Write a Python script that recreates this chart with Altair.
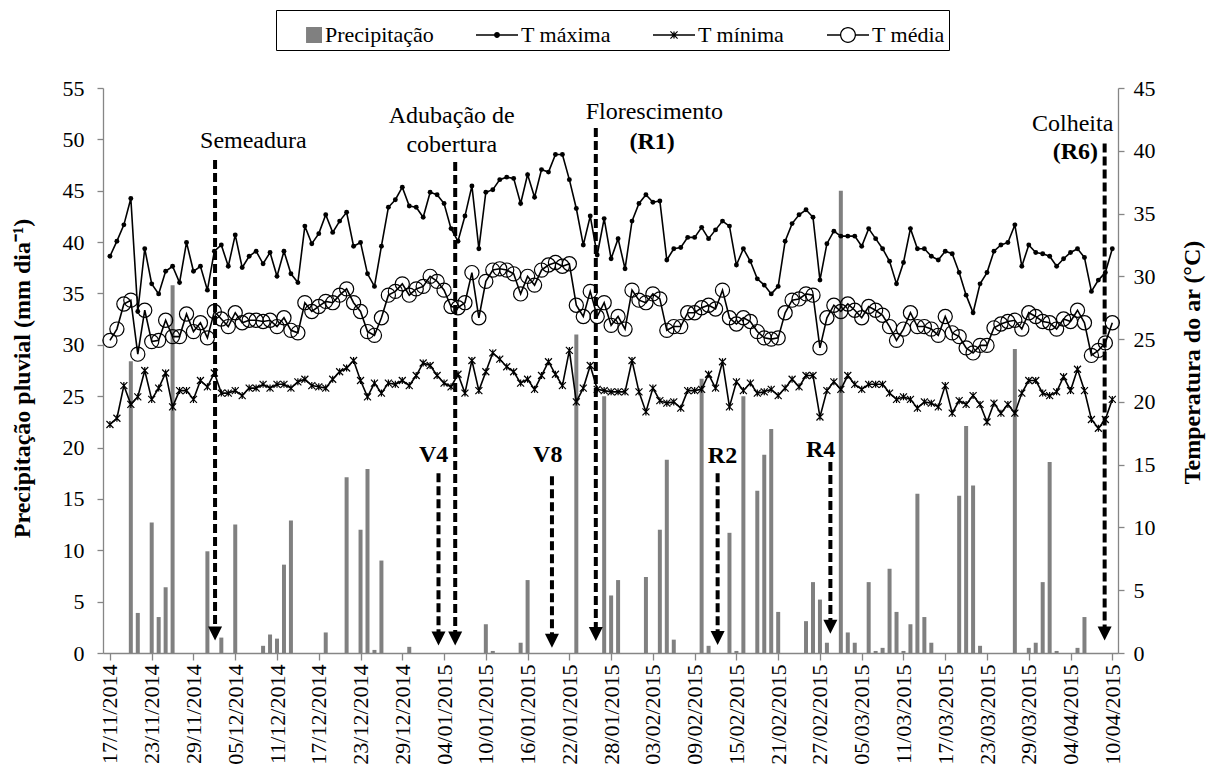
import altair as alt
import pandas as pd

# ---------------- data ----------------
tick_labels = ["17/11/2014", "23/11/2014", "29/11/2014", "05/12/2014", "11/12/2014",
               "17/12/2014", "23/12/2014", "29/12/2014", "04/01/2015", "10/01/2015",
               "16/01/2015", "22/01/2015", "28/01/2015", "03/02/2015", "09/02/2015",
               "15/02/2015", "21/02/2015", "27/02/2015", "05/03/2015", "11/03/2015",
               "17/03/2015", "23/03/2015", "29/03/2015", "04/04/2015", "10/04/2015"]

precip = [0, 0, 0, 28.4, 3.9, 0, 12.7, 3.5, 6.4, 35.8,
          0, 0, 0, 0, 9.9, 0, 1.5, 0, 12.5, 0,
          0, 0, 0.7, 1.8, 1.4, 8.6, 12.9, 0, 0, 0,
          0, 2.0, 0, 0, 17.1, 0, 12.0, 17.9, 0.3, 9.0,
          0, 0, 0, 0.6, 0, 0, 0, 0, 0, 0,
          0, 0, 0, 0, 2.8, 0.2, 0, 0, 0, 1.0,
          7.1, 0, 0, 0, 0, 0, 0, 31.0, 0, 0,
          0, 25.0, 5.6, 7.1, 0, 0, 0, 7.4, 0, 12.0,
          18.8, 1.3, 0, 0, 0, 26.7, 0.7, 0, 0, 11.7,
          0.2, 25.0, 0, 15.8, 19.3, 21.8, 4.0, 0, 0, 0,
          3.1, 6.9, 5.2, 1.0, 0, 45.0, 2.0, 1.0, 0, 6.9,
          0.2, 0.5, 8.2, 4.0, 0.2, 2.8, 15.5, 3.5, 1.0, 0,
          0, 0, 15.3, 22.1, 16.3, 0.7, 0, 0, 0, 0,
          29.6, 0, 0.5, 1.0, 6.9, 18.6, 0.2, 0, 0, 0.5,
          3.5, 0, 0, 0, 0]

tmax = [31.6, 32.8, 34.1, 36.2, 27.2, 32.2, 29.4, 28.6, 30.4, 30.8,
        29.5, 32.7, 30.4, 30.8, 28.9, 32.0, 32.5, 30.8, 33.3, 30.7,
        31.6, 32.0, 31.0, 31.9, 30.0, 32.0, 30.2, 29.5, 34.0, 32.6,
        33.4, 34.9, 33.5, 34.4, 35.1, 32.4, 32.7, 30.2, 29.2, 32.4,
        35.5, 36.1, 37.1, 35.6, 35.5, 34.7, 36.7, 36.5, 35.8, 33.8,
        32.8, 34.8, 37.2, 32.2, 36.7, 36.9, 37.7, 37.9, 37.8, 35.8,
        38.1, 36.3, 38.5, 38.3, 39.7, 39.7, 37.7, 35.4, 32.5, 34.8,
        31.7, 34.6, 31.4, 33.0, 30.6, 34.4, 35.8, 36.5, 35.9, 36.0,
        31.3, 32.2, 32.3, 33.1, 33.1, 33.9, 33.0, 33.7, 34.4, 34.0,
        30.9, 32.2, 31.2, 29.8, 29.3, 28.6, 29.2, 32.8, 34.2, 34.9,
        35.3, 34.7, 29.7, 32.6, 33.6, 33.2, 33.2, 33.2, 32.4, 33.8,
        33.0, 32.2, 31.2, 29.4, 31.1, 33.8, 32.2, 32.2, 31.6, 31.3,
        32.0, 31.8, 30.3, 28.5, 27.1, 29.4, 30.3, 32.0, 32.5, 32.7,
        34.1, 30.8, 32.5, 31.9, 31.8, 31.6, 30.8, 31.4, 31.9, 32.2,
        31.5, 28.8, 29.7, 30.3, 32.2]

tmin = [18.2, 18.7, 21.3, 19.8, 20.4, 22.5, 20.2, 21.1, 22.3, 19.6,
        20.9, 20.9, 20.2, 21.7, 21.2, 22.3, 20.7, 20.7, 20.9, 20.5,
        21.1, 21.1, 21.4, 21.1, 21.4, 21.4, 21.1, 21.6, 21.8, 21.3,
        21.2, 21.1, 21.8, 22.4, 22.7, 23.3, 21.7, 20.4, 21.5, 20.7,
        21.5, 21.4, 21.7, 21.3, 22.1, 23.1, 22.9, 22.1, 21.5, 21.2,
        22.2, 20.7, 23.3, 20.9, 22.4, 23.9, 23.4, 22.8, 22.4, 21.5,
        21.8, 21.0, 22.1, 23.2, 22.2, 21.3, 24.1, 20.0, 21.1, 22.9,
        21.0, 20.9, 20.8, 20.8, 20.8, 23.3, 20.8, 19.2, 21.1, 20.1,
        19.9, 20.0, 19.5, 20.9, 20.9, 21.0, 22.2, 21.1, 23.2, 19.6,
        21.6, 20.9, 21.5, 20.7, 20.8, 21.0, 20.5, 21.1, 21.8, 21.2,
        22.1, 22.1, 18.8, 20.9, 21.6, 21.0, 22.1, 21.4, 21.0, 21.4,
        21.4, 21.4, 20.7, 20.2, 20.4, 20.2, 19.5, 20.0, 19.9, 19.6,
        21.3, 19.1, 20.1, 19.8, 20.5, 19.8, 18.4, 19.9, 19.1, 19.8,
        19.1, 20.7, 21.7, 21.7, 20.7, 20.5, 20.8, 22.0, 20.9, 22.6,
        20.9, 18.6, 17.9, 18.6, 20.2]

tmean = [24.9, 25.8, 27.8, 28.1, 23.8, 27.3, 24.8, 24.9, 26.5, 25.2,
         25.2, 27.0, 25.6, 26.3, 25.1, 27.2, 26.6, 26.0, 27.1, 26.3,
         26.5, 26.5, 26.4, 26.5, 26.0, 26.7, 25.7, 25.5, 27.9, 27.2,
         27.6, 28.0, 27.9, 28.5, 29.0, 27.9, 27.2, 25.6, 25.3, 26.7,
         28.5, 28.8, 29.4, 28.5, 29.0, 29.2, 30.0, 29.6, 28.9, 27.6,
         27.5, 27.9, 30.3, 26.7, 29.6, 30.5, 30.6, 30.5, 30.2, 28.6,
         30.0, 29.3, 30.5, 30.9, 31.1, 30.8, 31.0, 27.7, 26.8, 28.8,
         26.8, 27.9, 26.1, 26.8, 25.8, 28.9, 28.1, 27.9, 28.6, 28.2,
         25.7, 26.0, 26.0, 27.1, 27.1, 27.5, 27.7, 27.4, 28.9, 26.7,
         26.2, 26.7, 26.4, 25.6, 25.1, 25.0, 25.1, 27.1, 28.1, 28.2,
         28.6, 28.5, 24.3, 26.7, 27.7, 27.2, 27.8, 27.3, 26.7, 27.6,
         27.3, 26.9, 26.0, 24.9, 25.8, 27.1, 26.0, 26.0, 25.8, 25.3,
         26.8, 25.5, 25.2, 24.3, 23.9, 24.5, 24.5, 25.9, 26.2, 26.4,
         26.5, 25.8, 27.1, 26.8, 26.4, 26.3, 25.8, 26.6, 26.4, 27.3,
         26.3, 23.7, 24.1, 24.7, 26.3]

series_names = ["Precipitação", "T máxima", "T mínima", "T média"]
series_colors = ["#808080", "black", "black", "black"]

# phenological arrows (day index, top and arrow-head level in mm)
arrow_day = [15.1, 47.2, 49.6, 63.5, 69.8, 87.3, 103.5, 142.9]
arrow_top = [48.0, 17.5, 47.8, 17.2, 51.1, 17.5, 18.6, 49.6]
arrow_head = [1.9, 1.4, 1.4, 1.2, 1.85, 1.45, 2.55, 1.9]

ann_text = ["Semeadura", "Adubação de", "cobertura", "Florescimento", "(R1)",
            "V4", "V8", "R2", "R4", "Colheita", "(R6)"]
ann_day = [20.6, 49.1, 49.1, 78.2, 77.9, 46.5, 62.9, 88.0, 102.1, 138.3, 138.7]
ann_y = [49.8, 52.3, 49.5, 52.7, 49.7, 19.3, 19.3, 19.2, 19.8, 51.5, 48.8]
ann_bold = [False, False, False, False, True, True, True, True, True, False, True]

# ---------------- tables ----------------
FONT = "Liberation Serif, Times New Roman, Times, serif"
GRAY = "#868686"

df = pd.DataFrame({"day": list(range(len(tmax))), "precip": precip,
                   "tmax": tmax, "tmin": tmin, "tmean": tmean})
arrows = pd.DataFrame({"day": arrow_day, "top": arrow_top, "head": arrow_head})
arrows["bottom"] = arrows["head"] + 0.6
ann = pd.DataFrame({"day": ann_day, "y": ann_y, "label": ann_text, "bold": ann_bold})
leg = pd.DataFrame({"serie": series_names})

label_expr = "[" + ",".join("'" + t + "'" for t in tick_labels) + "][round(datum.value / 6)]"

xscale = alt.Scale(domain=[-0.28, 144.1], nice=False, zero=False)
xaxis = alt.Axis(values=list(range(0, 145, 6)), labelExpr=label_expr, labelAngle=270,
                 labelFont=FONT, labelFontSize=22, labelColor="black", labelPadding=4,
                 labelFlush=False, labelOverlap=False, tickSize=7, tickColor=GRAY,
                 tickWidth=1.3, domainColor=GRAY, domainWidth=1.3, grid=False, title=None)
x_enc = alt.X("day:Q", scale=xscale, axis=xaxis)

left_axis = alt.Axis(values=list(range(0, 60, 5)), orient="left", labelFont=FONT,
                     labelFontSize=22, labelColor="black", labelPadding=13, tickSize=6,
                     tickColor=GRAY, tickWidth=1.3, domainColor=GRAY, domainWidth=1.3,
                     grid=False, labelFlush=False,
                     title="Precipitação pluvial (mm dia⁻¹)", titleFont=FONT,
                     titleFontSize=24, titleFontWeight="bold", titleColor="black",
                     titleAngle=270, titleX=-81, titleY=290, titleAlign="center",
                     titleBaseline="middle")
right_axis = alt.Axis(values=list(range(0, 50, 5)), orient="right", labelFont=FONT,
                      labelFontSize=22, labelColor="black", labelPadding=9, tickSize=6,
                      tickColor=GRAY, tickWidth=1.3, domainColor=GRAY, domainWidth=1.3,
                      grid=False, labelFlush=False,
                      title="Temperatura do ar (°C)", titleFont=FONT,
                      titleFontSize=24, titleFontWeight="bold", titleColor="black",
                      titleAngle=270, titleX=74, titleY=274, titleAlign="center",
                      titleBaseline="middle")

pscale = alt.Scale(domain=[0, 55], nice=False, zero=True)
tscale = alt.Scale(domain=[0, 45], nice=False, zero=True)

# ---------------- precipitation bars (left axis) ----------------
bars = alt.Chart(df).mark_bar(size=4, color="#808080").encode(
    x=x_enc, y=alt.Y("precip:Q", scale=pscale, axis=left_axis))

# ---------------- temperature lines (right axis) ----------------
STAR = "M-1,-1L1,1M-1,1L1,-1M0,-1L0,1"
base = alt.Chart(df)
def tline(field):
    return base.mark_line(color="black", strokeWidth=1.6).encode(
        x=x_enc, y=alt.Y(field + ":Q", scale=tscale, axis=right_axis))

tmax_pts = base.mark_point(shape="circle", filled=True, size=24, color="black",
                           opacity=1).encode(
    x=x_enc, y=alt.Y("tmax:Q", scale=tscale, axis=right_axis))
tmin_pts = base.mark_point(shape=STAR, filled=False, size=49, color="black",
                           strokeWidth=1.2, opacity=1).encode(
    x=x_enc, y=alt.Y("tmin:Q", scale=tscale, axis=right_axis))
tmean_pts = base.mark_point(shape="circle", filled=False, size=200, color="black",
                            strokeWidth=1.2, opacity=1).encode(
    x=x_enc, y=alt.Y("tmean:Q", scale=tscale, axis=right_axis))

temps = alt.layer(tline("tmax"), tmax_pts, tline("tmin"), tmin_pts,
                  tline("tmean"), tmean_pts)

# ---------------- annotations (left scale, hidden axis) ----------------
ascale = alt.Scale(domain=[0, 55], nice=False, zero=True)
rules = alt.Chart(arrows).mark_rule(color="black", strokeWidth=4, strokeDash=[9, 4]).encode(
    x=x_enc, y=alt.Y("top:Q", scale=ascale, axis=None), y2="bottom:Q")
heads = alt.Chart(arrows).mark_point(shape="M-1,-1L1,-1L0,1Z", filled=True, size=196,
                                     color="black", opacity=1).encode(
    x=x_enc, y=alt.Y("head:Q", scale=ascale, axis=None))
txt_norm = alt.Chart(ann).transform_filter("!datum.bold").mark_text(
    font=FONT, fontSize=24, color="black", align="center", baseline="middle").encode(
    x=x_enc, y=alt.Y("y:Q", scale=ascale, axis=None), text="label:N")
txt_bold = alt.Chart(ann).transform_filter("datum.bold").mark_text(
    font=FONT, fontSize=24, fontWeight="bold", color="black", align="center",
    baseline="middle").encode(
    x=x_enc, y=alt.Y("y:Q", scale=ascale, axis=None), text="label:N")

# ---------------- legend (built by the library from colour/shape scales) ----------------
SQ = "M0.24,-0.38L1,-0.38L1,0.38L0.24,0.38Z"
LINE = "M-1,-0.036L-1,0.036L1,0.036L1,-0.036Z"
DOT = "M-0.14,0A0.14,0.14 0 1,0 0.14,0A0.14,0.14 0 1,0 -0.14,0Z"
XSTAR = ("M-0.19,-0.15L0.15,0.19L0.19,0.15L-0.15,-0.19Z"
         "M-0.15,0.19L0.19,-0.15L0.15,-0.19L-0.19,0.15Z"
         "M-0.03,-0.17L-0.03,0.17L0.03,0.17L0.03,-0.17Z")
RING = ("M-1,-0.036L-1,0.036L-0.35,0.036L-0.35,-0.036Z"
        "M0.35,-0.036L0.35,0.036L1,0.036L1,-0.036Z"
        "M-0.38,0A0.38,0.38 0 1,0 0.38,0A0.38,0.38 0 1,0 -0.38,0Z"
        "M-0.32,0A0.32,0.32 0 1,1 0.32,0A0.32,0.32 0 1,1 -0.32,0Z")
legend_shapes = [SQ, LINE + DOT, LINE + XSTAR, RING]

leg_def = dict(title=None, orient="none", legendX=173, legendY=-78, direction="horizontal",
               columns=4, symbolSize=1764, symbolStrokeWidth=0, symbolOpacity=1,
               labelFont=FONT, labelFontSize=22, labelColor="black", labelOffset=3,
               columnPadding=42, padding=4, strokeColor="black", labelLimit=300)
legend_layer = alt.Chart(leg).transform_filter("false").mark_point(
    filled=True, opacity=1, size=1764).encode(
    color=alt.Color("serie:N", scale=alt.Scale(domain=series_names, range=series_colors),
                    legend=alt.Legend(**leg_def)),
    shape=alt.Shape("serie:N", scale=alt.Scale(domain=series_names, range=legend_shapes),
                    legend=alt.Legend(**leg_def)))

annots = alt.layer(rules, heads, txt_norm, txt_bold, legend_layer)

chart = alt.layer(bars, temps, annots).resolve_scale(y="independent").properties(
    width=1015, height=565,
    autosize=alt.AutoSizeParams(type="none"),
    padding={"left": 103, "top": 88, "right": 90, "bottom": 120},
).configure_view(stroke=None)

chart.save("out.html", embed_options={"renderer": "svg", "actions": False})
